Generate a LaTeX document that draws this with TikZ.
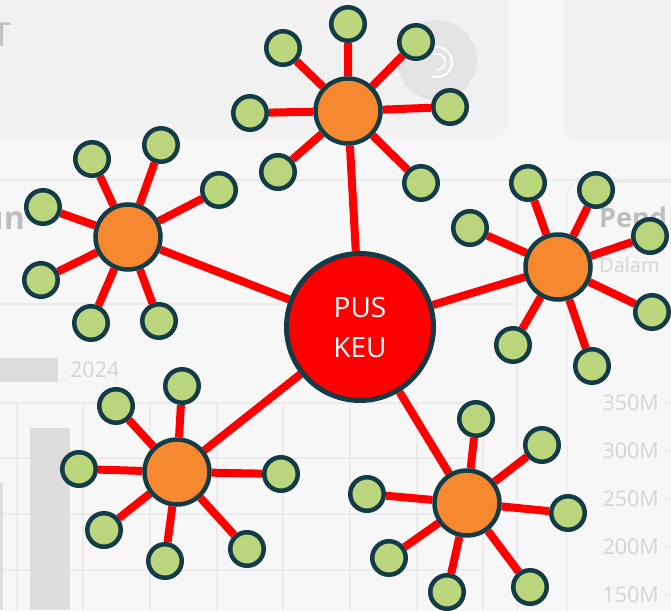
\documentclass[tikz,border=0pt]{standalone}
\usepackage{fontspec}
\setmainfont{Open Sans}

\definecolor{hubfill}{HTML}{F6882F}
\definecolor{leaffill}{HTML}{BAD57C}
\definecolor{rimcol}{HTML}{143C46}
\definecolor{pagebg}{HTML}{F7F7F7}
\definecolor{cardbg}{HTML}{F1F1F1}
\definecolor{gridcol}{HTML}{EBEBEB}
\definecolor{ghost}{HTML}{D4D4D4}
\definecolor{ghostdark}{HTML}{BEBEBE}
\definecolor{barcol}{HTML}{DDDDDD}

\pgfdeclarelayer{dash}
\pgfdeclarelayer{wires}
\pgfsetlayers{dash,wires,main}

\tikzset{
	core/.style={circle, draw=rimcol, line width=5pt, fill=red, minimum size=147pt, inner sep=0pt, text=white, align=center, font=\fontsize{28}{40}\selectfont},
	hub/.style={circle, draw=rimcol, line width=4.5pt, fill=hubfill, minimum size=65pt, inner sep=0pt},
	leaf/.style={circle, draw=rimcol, line width=4.5pt, fill=leaffill, minimum size=33.5pt, inner sep=0pt},
	link/.style={red, line width=8pt},
	ghostlabel/.style={text=ghost, inner sep=0pt, font=\fontsize{21.5}{24}\selectfont},
	gridline/.style={gridcol, line width=1.2pt},
}

\begin{document}
\begin{tikzpicture}[x=1pt, y=-1pt]
			%%%%% START %%%%%
			
			\useasboundingbox (0, 0) rectangle (671, 610);
			
			\begin{pgfonlayer}{dash}
				% faded dashboard behind the graph
				\fill[pagebg] (0, 0) rectangle (671, 610);
				\fill[cardbg, rounded corners=14pt] (-20, -20) rectangle (508, 137);
				\fill[cardbg, rounded corners=14pt] (564, -20) rectangle (700, 140);
				\draw[gridline] (0, 180) -- (671, 180);
				\draw[gridline, fill=pagebg, rounded corners=12pt] (567, 182) rectangle (700, 640);
				\draw[gridline] (517, 182) -- (517, 610);
				\draw[gridline] (0, 304) -- (517, 304);
				
				\draw[gridline] (17, 403) -- (17, 610);
				\draw[gridline] (83, 403) -- (83, 610);
				\draw[gridline] (150, 403) -- (150, 610);
				\draw[gridline] (217, 403) -- (217, 610);
				\draw[gridline] (283, 403) -- (283, 610);
				\draw[gridline] (350, 403) -- (350, 610);
				\draw[gridline] (417, 403) -- (417, 610);
				\draw[gridline] (483, 403) -- (483, 610);
				\draw[gridline] (0, 403) -- (483, 403);
				\draw[gridline] (0, 458) -- (483, 458);
				\draw[gridline] (0, 514) -- (483, 514);
				\draw[gridline] (0, 570) -- (483, 570);
				
				\fill[barcol] (0, 358) rectangle (58, 382);
				\fill[barcol] (30, 428) rectangle (70, 610);
				\fill[barcol] (0, 483) rectangle (3, 610);
				\node[ghostlabel, anchor=west] (yr) at (70, 370) {2024};
				
				\node[ghostlabel, anchor=east] (v350) at (659, 403) {350M};
				\node[ghostlabel, anchor=east] (v300) at (659, 451) {300M};
				\node[ghostlabel, anchor=east] (v250) at (659, 499) {250M};
				\node[ghostlabel, anchor=east] (v200) at (659, 547) {200M};
				\node[ghostlabel, anchor=east] (v150) at (659, 595) {150M};
				\draw[gridline] (665, 403) -- (671, 403);
				\draw[gridline] (665, 451) -- (671, 451);
				\draw[gridline] (665, 499) -- (671, 499);
				\draw[gridline] (665, 547) -- (671, 547);
				\draw[gridline] (665, 595) -- (671, 595);
				
				\node[ghostlabel, text=ghostdark, anchor=base east, font=\fontsize{33}{36}\selectfont] (ttl) at (11, 47) {T};
				\node[ghostlabel, text=ghostdark, anchor=base east, font=\bfseries\fontsize{32}{36}\selectfont] (yrs) at (25, 229) {un};
				\node[ghostlabel, text=ghostdark, anchor=base west, font=\bfseries\fontsize{27}{30}\selectfont] (pend) at (599, 227) {Pend};
				\node[ghostlabel, anchor=base west, font=\fontsize{20}{24}\selectfont] (dalam) at (599, 272) {Dalam};
				
				% round icon in the first card
				\fill[black!11] (437, 60) circle (40);
				\draw[white, line width=2pt] (437, 62) ++(200:15) arc (200:470:15);
				\draw[white, line width=1.6pt] (437, 62) ++(240:8) arc (240:450:8);
			\end{pgfonlayer}
			
			% centre and hubs
			\node[core] (core) at (360, 327) {PUS\\KEU};
			\node[hub] (hubn) at (348, 111) {};
			\node[hub] (hubw) at (128, 237) {};
			\node[hub] (hube) at (558, 267) {};
			\node[hub] (hubsw) at (177, 472) {};
			\node[hub] (hubse) at (467, 503) {};
			
			% leaves, top
			\node[leaf] (n1) at (348, 24) {};
			\node[leaf] (n2) at (416, 42) {};
			\node[leaf] (n3) at (450, 107) {};
			\node[leaf] (n4) at (421, 183) {};
			\node[leaf] (n5) at (278, 172) {};
			\node[leaf] (n6) at (250, 113) {};
			\node[leaf] (n7) at (283, 48) {};
			
			% leaves, left
			\node[leaf] (w1) at (92, 159) {};
			\node[leaf] (w2) at (161, 145) {};
			\node[leaf] (w3) at (219, 190) {};
			\node[leaf] (w4) at (43, 207) {};
			\node[leaf] (w5) at (41, 280) {};
			\node[leaf] (w6) at (91, 323) {};
			\node[leaf] (w7) at (159, 321) {};
			
			% leaves, right
			\node[leaf] (e1) at (470, 228) {};
			\node[leaf] (e2) at (528, 183) {};
			\node[leaf] (e3) at (596, 190) {};
			\node[leaf] (e4) at (650, 236) {};
			\node[leaf] (e5) at (652, 312) {};
			\node[leaf] (e6) at (592, 366) {};
			\node[leaf] (e7) at (513, 345) {};
			
			% leaves, bottom left
			\node[leaf] (sw1) at (182, 386) {};
			\node[leaf] (sw2) at (116, 406) {};
			\node[leaf] (sw3) at (79, 469) {};
			\node[leaf] (sw4) at (281, 474) {};
			\node[leaf] (sw5) at (104, 530) {};
			\node[leaf] (sw6) at (165, 561) {};
			\node[leaf] (sw7) at (247, 549) {};
			
			% leaves, bottom right
			\node[leaf] (se1) at (476, 419) {};
			\node[leaf] (se2) at (542, 445) {};
			\node[leaf] (se3) at (367, 494) {};
			\node[leaf] (se4) at (568, 513) {};
			\node[leaf] (se5) at (389, 558) {};
			\node[leaf] (se6) at (447, 592) {};
			\node[leaf] (se7) at (530, 587) {};
			
			\begin{pgfonlayer}{wires}
				\draw[link] (core) -- (hubn) (core) -- (hubw) (core) -- (hube) (core) -- (hubsw) (core) -- (hubse);
				\draw[link] (hubn) -- (n1) (hubn) -- (n2) (hubn) -- (n3) (hubn) -- (n4) (hubn) -- (n5) (hubn) -- (n6) (hubn) -- (n7);
				\draw[link] (hubw) -- (w1) (hubw) -- (w2) (hubw) -- (w3) (hubw) -- (w4) (hubw) -- (w5) (hubw) -- (w6) (hubw) -- (w7);
				\draw[link] (hube) -- (e1) (hube) -- (e2) (hube) -- (e3) (hube) -- (e4) (hube) -- (e5) (hube) -- (e6) (hube) -- (e7);
				\draw[link] (hubsw) -- (sw1) (hubsw) -- (sw2) (hubsw) -- (sw3) (hubsw) -- (sw4) (hubsw) -- (sw5) (hubsw) -- (sw6) (hubsw) -- (sw7);
				\draw[link] (hubse) -- (se1) (hubse) -- (se2) (hubse) -- (se3) (hubse) -- (se4) (hubse) -- (se5) (hubse) -- (se6) (hubse) -- (se7);
			\end{pgfonlayer}
			
			%%%%% END %%%%%
\end{tikzpicture}
\end{document}
